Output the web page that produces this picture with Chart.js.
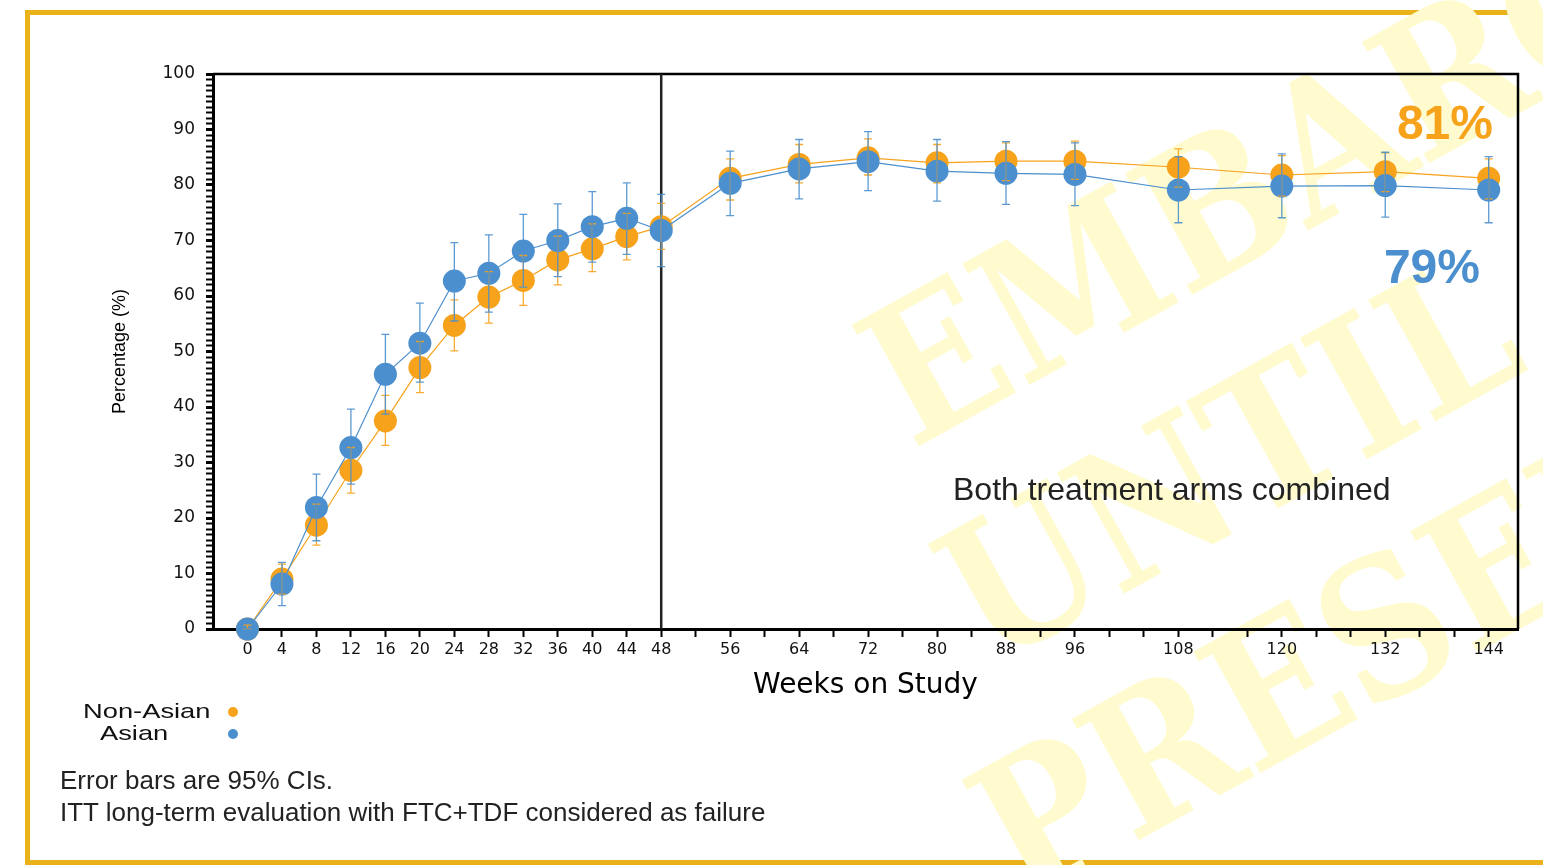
<!DOCTYPE html>
<html lang="en">
<head>
<meta charset="UTF-8">
<title>Percentage over time, Non-Asian vs Asian</title>
<script src="https://cdn.jsdelivr.net/npm/chart.js@4"></script>
<style>
  html, body { margin: 0; padding: 0; background: #fff; width: 1543px; height: 865px; overflow: hidden; }
  body { position: relative; font-family: "Liberation Sans", Arial, sans-serif; }
  #frame { position: absolute; left: 25px; top: 10px; width: 1560px; height: 855px; box-sizing: border-box; border: 5px solid #E9B11A; }
  #mark { position: absolute; left: 0; top: 0; }
  #c { position: absolute; left: 0; top: 0; }
  .big { position: absolute; font-weight: bold; font-size: 48px; line-height: 48px; }
  #note { position: absolute; left: 953px; top: 473px; font-size: 32px; line-height: 32px; color: #222; }
  #legend { position: absolute; left: 0; top: 700px; }
  .row { position: absolute; height: 22px; white-space: nowrap; }
  .row span.t { position: absolute; top: 0; font-size: 21px; line-height: 22px; color: #111; transform: scaleX(1.3); transform-origin: left center; }
  .row span.d { position: absolute; top: 7px; width: 10px; height: 10px; border-radius: 50%; }
  #foot { position: absolute; left: 60px; top: 764px; font-size: 26px; line-height: 32px; color: #222; }
</style>
</head>
<body>
<div id="frame"></div>
<svg id="mark" width="1543" height="865" xmlns="http://www.w3.org/2000/svg">
  <g font-family="DejaVu Serif" font-weight="bold" font-size="190" fill="#FFFBCF">
    <text transform="translate(912 450) rotate(-29) scale(0.88 1)">EMBARGOED</text>
    <text transform="translate(990 668) rotate(-29) scale(0.88 1)">UNTIL</text>
    <text transform="translate(1022 905) rotate(-29) scale(0.88 1)">PRESENTED</text>
  </g>
</svg>
<canvas id="c" width="1543" height="865"></canvas>
<div class="big" style="right:50px; top:99px; color:#F7A21B;">81%</div>
<div class="big" style="right:63px; top:243px; color:#4B8FCE;">79%</div>
<div id="note">Both treatment arms combined</div>
<div id="legend"></div>
<div id="foot">Error bars are 95% CIs.<br>ITT long-term evaluation with FTC+TDF considered as failure</div>
<script>
// weeks on study
const weeks = [0, 4, 8, 12, 16, 20, 24, 28, 32, 36, 40, 44, 48, 56, 64, 72, 80, 88, 96, 108, 120, 132, 144];

// Non-Asian: percentage and 95% CI
const nonAsian     = [0, 9.0, 18.7, 28.6, 37.5, 47.1, 54.7, 59.8, 62.8, 66.5, 68.5, 70.7, 72.5, 81.2, 83.7, 84.9, 84.0, 84.3, 84.3, 83.2, 81.8, 82.4, 81.2];
const nonAsianLow  = [0, 6.3, 15.1, 24.5, 33.1, 42.6, 50.1, 55.1, 58.3, 62.0, 64.4, 66.5, 68.4, 77.3, 80.4, 81.8, 80.4, 80.8, 81.0, 79.6, 78.0, 78.8, 77.5];
const nonAsianHigh = [0.7, 11.7, 22.5, 32.7, 42.1, 51.8, 59.3, 64.4, 67.3, 70.8, 73.0, 74.9, 76.7, 84.7, 87.3, 88.3, 87.3, 87.6, 87.9, 86.5, 85.3, 85.8, 84.7];

// Asian: percentage and 95% CI
const asian     = [0, 8.1, 21.9, 32.7, 45.9, 51.5, 62.7, 64.1, 68.1, 70.0, 72.5, 74.0, 71.8, 80.3, 82.9, 84.2, 82.5, 82.1, 81.9, 79.1, 79.8, 79.9, 79.1];
const asianLow  = [0, 4.2, 15.9, 26.1, 38.7, 44.5, 55.5, 57.1, 61.6, 63.5, 66.1, 67.5, 65.3, 74.5, 77.5, 79.0, 77.1, 76.5, 76.3, 73.2, 74.1, 74.2, 73.2];
const asianHigh = [0, 12.0, 27.9, 39.6, 53.1, 58.7, 69.6, 71.0, 74.7, 76.6, 78.8, 80.4, 78.3, 86.1, 88.2, 89.6, 88.2, 87.8, 87.6, 85.1, 85.6, 85.9, 85.1];

// axis ticks
const xTickMarks = [0, 4, 8, 12, 16, 20, 24, 28, 32, 36, 40, 44, 48, 52, 56, 60, 64, 68, 72, 76, 80, 84, 88, 92, 96, 100, 104, 108, 112, 116, 120, 124, 128, 132, 136, 140, 144];
const xTickLabels = [0, 4, 8, 12, 16, 20, 24, 28, 32, 36, 40, 44, 48, 56, 64, 72, 80, 88, 96, 108, 120, 132, 144];

const seriesNames = ['Non-Asian', 'Asian'];
const seriesColors = ['#F7A21B', '#4B8FCE'];

function pts(vals) {
    return weeks.map((w, i) => ({ x: w, y: vals[i] }));
}

// error bars drawn through the chart scales
const errorBars = {
    id: 'errorBars',
    afterDatasetsDraw(chart) {
        const { ctx, scales: { x, y } } = chart;
        chart.data.datasets.forEach(ds => {
            ctx.save();
            ctx.strokeStyle = ds.borderColor;
            ctx.globalAlpha = 0.9;
            ctx.lineWidth = 1.3;
            ds.data.forEach((p, i) => {
                const px = x.getPixelForValue(p.x);
                const lo = y.getPixelForValue(ds.low[i]);
                const hi = y.getPixelForValue(ds.high[i]);
                ctx.beginPath();
                ctx.moveTo(px, lo); ctx.lineTo(px, hi);
                ctx.moveTo(px - 4, lo); ctx.lineTo(px + 4, lo);
                ctx.moveTo(px - 4, hi); ctx.lineTo(px + 4, hi);
                ctx.stroke();
            });
            ctx.restore();
        });
    }
};

// top/right frame and the week 48 divider
const frame = {
    id: 'frame',
    beforeDatasetsDraw(chart) {
        const { ctx, chartArea: a, scales: { x } } = chart;
        ctx.save();
        ctx.strokeStyle = '#000';
        ctx.lineWidth = 2.5;
        ctx.beginPath();
        ctx.moveTo(a.left, a.top); ctx.lineTo(a.right, a.top); ctx.lineTo(a.right, a.bottom);
        ctx.stroke();
        const x48 = x.getPixelForValue(48);
        ctx.strokeStyle = '#222';
        ctx.beginPath();
        ctx.moveTo(x48, a.top); ctx.lineTo(x48, a.bottom);
        ctx.stroke();
        ctx.restore();
    }
};

const ctx = document.getElementById('c').getContext('2d');
const chart = new Chart(ctx, {
    type: 'line',
    data: {
        datasets: [
            {
                label: seriesNames[0], data: pts(nonAsian), low: nonAsianLow, high: nonAsianHigh,
                borderColor: seriesColors[0], backgroundColor: seriesColors[0],
                borderWidth: 1.2, pointRadius: 11.5, pointBorderWidth: 0, order: 1, clip: false
            },
            {
                label: seriesNames[1], data: pts(asian), low: asianLow, high: asianHigh,
                borderColor: seriesColors[1], backgroundColor: seriesColors[1],
                borderWidth: 1.2, pointRadius: 11.5, pointBorderWidth: 0, order: 0, clip: false
            }
        ]
    },
    options: {
        responsive: false,
        animation: false,
        devicePixelRatio: 1,
        layout: { padding: { left: 105, top: 74, right: 25, bottom: 156 } },
        plugins: { legend: { display: false }, tooltip: { enabled: false } },
        scales: {
            x: {
                type: 'linear',
                min: -4,
                max: 147.4,
                afterFit: s => { s.height = 80; },
                afterBuildTicks: s => { s.ticks = xTickMarks.map(v => ({ value: v })); },
                border: { color: '#000', width: 3 },
                grid: {
                    drawOnChartArea: false, tickLength: 8, tickWidth: 2,
                    tickColor: c => (c.tick && c.tick.value === 0) ? 'rgba(0,0,0,0)' : '#000'
                },
                ticks: {
                    autoSkip: false, maxRotation: 0, padding: 3, color: '#111',
                    font: { family: 'DejaVu Sans', size: 16 },
                    callback: v => xTickLabels.includes(v) ? String(v) : ''
                },
                title: {
                    display: true, text: 'Weeks on Study', color: '#000',
                    font: { family: 'DejaVu Sans', size: 28 }, padding: { top: 0, bottom: 6 }
                }
            },
            y: {
                min: 0,
                max: 100,
                afterFit: s => { s.width = 108; },
                border: { color: '#000', width: 3 },
                grid: {
                    drawOnChartArea: false, tickLength: 7,
                    tickWidth: c => (c.tick && c.tick.value % 10 === 0) ? 3 : 2,
                    tickColor: '#000'
                },
                ticks: {
                    stepSize: 1, autoSkip: false, padding: 11, color: '#111',
                    font: { family: 'DejaVu Sans', size: 17 },
                    callback: v => v % 10 === 0 ? String(v) : ''
                },
                title: {
                    display: true, text: 'Percentage (%)', color: '#000',
                    font: { family: 'Liberation Sans', size: 18 }, padding: { top: 4, bottom: 4 }
                }
            }
        }
    },
    plugins: [frame, errorBars]
});

// legend below the axis
const legendIndent = [83, 100];
const legend = document.getElementById('legend');
seriesNames.forEach((name, i) => {
    const row = document.createElement('div');
    row.className = 'row';
    row.style.top = (i * 22) + 'px';
    row.innerHTML = '<span class="t" style="left:' + legendIndent[i] + 'px">' + name + '</span>' +
        '<span class="d" style="left:228px;background:' + seriesColors[i] + '"></span>';
    legend.appendChild(row);
});
</script>
</body>
</html>
